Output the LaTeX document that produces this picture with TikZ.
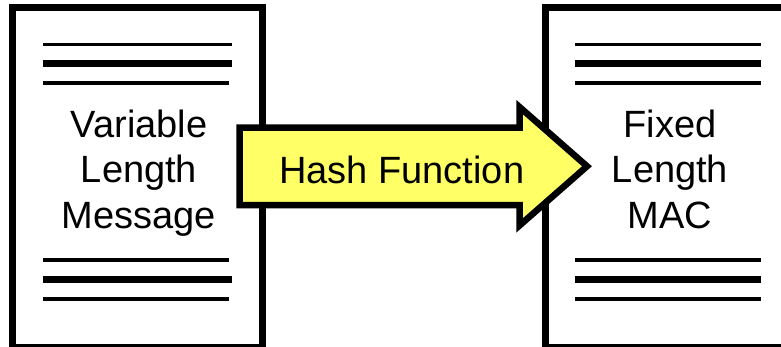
\documentclass[tikz,border=0pt]{standalone}
\usepackage{fontspec}
\setmainfont{Liberation Sans}
\definecolor{arrowyellow}{RGB}{255,255,102}
\begin{document}
\begin{tikzpicture}[x=1pt,y=-1pt,
  docbox/.style={draw=black, line width=7pt, fill=white,
    minimum width=249.5pt, minimum height=339.5pt, inner sep=0pt, outer sep=0pt},
  rule/.style={draw=black, line width=#1},
  caption/.style={font=\fontsize{38}{44}\selectfont, inner sep=0pt, anchor=base},
  hasharrow/.style={fill=arrowyellow, draw=black, line width=6.5pt, line join=miter}]
\useasboundingbox (0,0) rectangle (781,346);
\clip (0,0) rectangle (781,346);
\fill[white] (0,0) rectangle (781,346);

% the two documents
\node[docbox] (msg) at (137.25,177.25) {};
\node[docbox] (mac) at (670.25,177.25) {};

% ruled lines of the message page
\draw[rule=3pt]   (43,44.3)  -- (232,44.3);
\draw[rule=6.5pt] (43,63.3)  -- (232,63.3);
\draw[rule=4pt]   (43,82.7)  -- (229,82.7);
\draw[rule=4pt]   (43,260)   -- (229,260);
\draw[rule=6.5pt] (43,279.3) -- (232,279.3);
\draw[rule=4pt]   (43,299)   -- (229,299);

% ruled lines of the MAC page
\draw[rule=3pt]   (575,44.3)  -- (761,44.3);
\draw[rule=6.5pt] (575,63.3)  -- (761,63.3);
\draw[rule=4pt]   (575,82.7)  -- (761,82.7);
\draw[rule=4pt]   (575,260)   -- (761,260);
\draw[rule=6.5pt] (575,279.3) -- (761,279.3);
\draw[rule=4pt]   (575,299)   -- (761,299);

% page texts
\node[caption] (m1) at (139,137) {Variable};
\node[caption] (m2) at (139,182) {Length};
\node[caption] (m3) at (139,228) {Message};
\node[caption] (c1) at (670,137) {Fixed};
\node[caption] (c2) at (670,182) {Length};
\node[caption] (c3) at (670,228) {MAC};

% block arrow with the hash function label
\draw[hasharrow] (239.5,127.5) -- (519.5,127.5) -- (519.5,107) -- (587,166.25)
  -- (519.5,225.5) -- (519.5,205) -- (239.5,205) -- cycle;
\node[caption] (hash) at (401.7,183.3) {Hash Function};
\end{tikzpicture}
\end{document}
